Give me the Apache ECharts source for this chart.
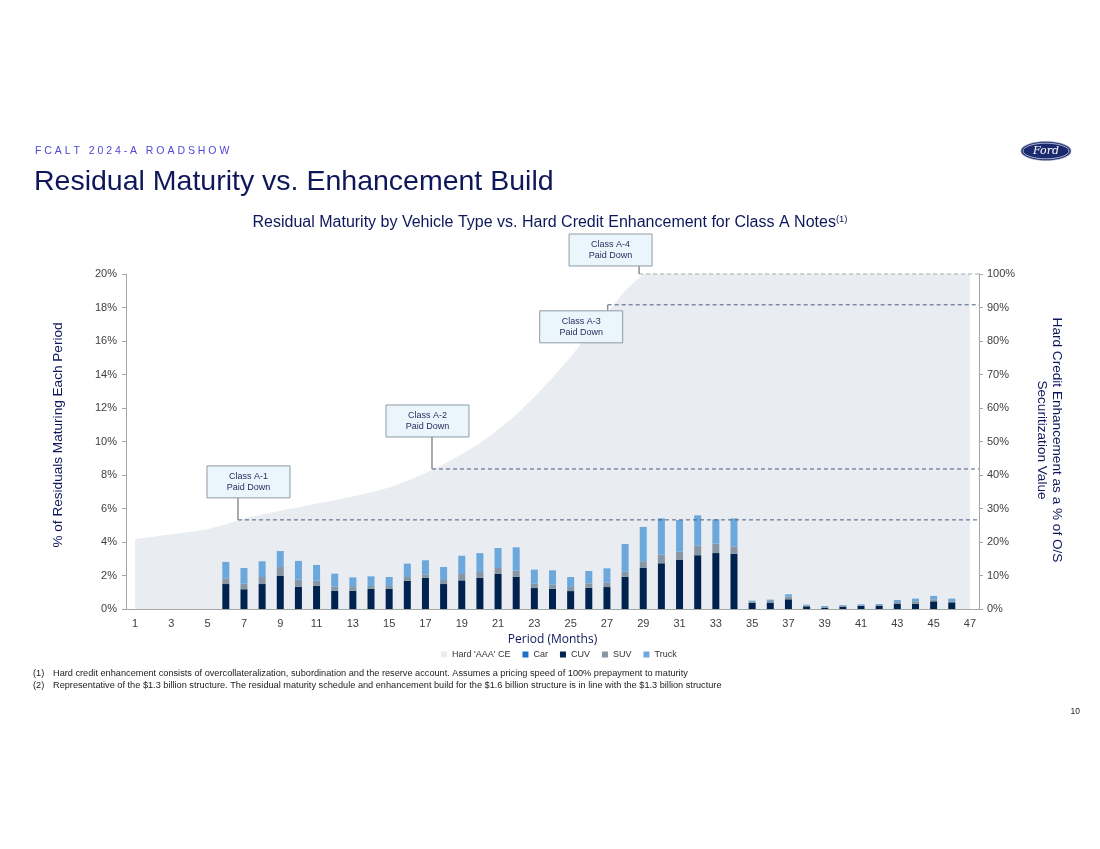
<!DOCTYPE html>
<html>
<head>
<meta charset="utf-8">
<script src="https://cdn.jsdelivr.net/npm/echarts@6/dist/echarts.min.js"></script>
<style>
html,body{margin:0;padding:0;background:#fff;}
#c{width:1100px;height:849px;}
</style>
</head>
<body>
<div id="c"></div>
<script>
// ---- data ----
const periods = ['1','2','3','4','5','6','7','8','9','10','11','12','13','14','15','16','17','18','19','20','21','22','23','24','25','26','27','28','29','30','31','32','33','34','35','36','37','38','39','40','41','42','43','44','45','46','47'];
const hardAAACE = [20.9,21.6,22.3,23.0,23.8,25.3,27.0,28.2,29.3,30.4,31.5,32.5,33.6,34.8,36.3,38.2,40.6,43.2,46.2,49.5,53.5,58.0,63.3,69.0,75.2,82.0,88.3,95.0,100,100,100,100,100,100,100,100,100,100,100,100,100,100,100,100,100,100,100];
const car   = [0,0,0,0,0,0,0,0,0,0,0,0,0,0,0,0,0,0,0,0,0,0,0,0,0,0,0,0,0,0,0,0,0,0,0,0,0,0,0,0,0,0,0,0,0,0,0];
const cuv   = [0,0,0,0,0,1.49,1.18,1.49,1.99,1.33,1.39,1.09,1.09,1.21,1.21,1.69,1.87,1.49,1.71,1.87,2.11,1.93,1.25,1.21,1.07,1.27,1.31,1.93,2.47,2.73,2.93,3.21,3.34,3.30,0.38,0.38,0.58,0.16,0.08,0.14,0.18,0.20,0.30,0.32,0.46,0.40,0];
const suv   = [0,0,0,0,0,0.34,0.33,0.42,0.52,0.42,0.30,0.24,0.22,0.16,0.16,0.22,0.18,0.24,0.38,0.34,0.34,0.36,0.26,0.24,0.24,0.26,0.26,0.30,0.38,0.51,0.49,0.57,0.56,0.44,0.07,0.10,0.16,0.04,0.04,0.06,0.04,0.04,0.12,0.14,0.12,0.06,0];
const truck = [0,0,0,0,0,0.98,0.94,0.94,0.95,1.12,0.94,0.78,0.58,0.58,0.54,0.80,0.86,0.78,1.09,1.13,1.19,1.39,0.84,0.86,0.60,0.74,0.86,1.65,2.05,2.17,1.89,1.81,1.45,1.67,0.05,0.08,0.14,0.06,0.06,0.04,0.06,0.06,0.12,0.16,0.20,0.16,0];
const leftTicks = {min:0, max:20, interval:2};
const rightTicks = {min:0, max:100, interval:10};

// annotations (class paydown points)
const annotLabels  = ['Class A-1\nPaid Down','Class A-2\nPaid Down','Class A-3\nPaid Down','Class A-4\nPaid Down'];
const annotPeriods = [6.67, 17.36, 27.04, 28.77];
const annotLevels  = [26.6, 41.8, 90.8, 100];

// ---- styling ----
const NAVY = '#0E175A';
const FONT = '"Liberation Sans", Arial, sans-serif';
const boxOffsets = [[-31,-54],[-46,-64],[-68,6],[-70,-40]];
const dashColors = ['#4C5A80','#4C5A80','#4C5A80','#A8A8A8'];

const chart = echarts.init(document.getElementById('c'), null, {renderer:'canvas'});

const option = {
  animation: false,
  backgroundColor: '#ffffff',
  textStyle: {fontFamily: FONT},
  title: [
    {text: 'F C A L T   2 0 2 4 - A   R O A D S H O W', left: 35, top: 146, padding: 0,
     textStyle: {fontSize: 10.5, fontWeight: 'normal', color: '#5046D6', fontFamily: FONT}},
    {text: 'Residual Maturity vs. Enhancement Build', left: 34, top: 168, padding: 0,
     textStyle: {fontSize: 28.5, fontWeight: 'normal', color: NAVY, fontFamily: FONT}},
    {text: '{a|Residual Maturity by Vehicle Type vs. Hard Credit Enhancement for Class A Notes}{b|(1)}',
     left: 'center', top: 214, padding: 0,
     textStyle: {rich: {
       a: {fontSize: 16, fontWeight: 'normal', color: NAVY, fontFamily: FONT},
       b: {fontSize: 9.5, fontWeight: 'normal', color: NAVY, fontFamily: FONT, verticalAlign: 'top', padding: [0,0,7,0]}
     }}}
  ],
  legend: {
    left: 436, top: 645, icon: 'rect', itemWidth: 6, itemHeight: 6, itemGap: 12,
    textStyle: {fontSize: 9, color: '#333', fontFamily: FONT},
    data: ["Hard 'AAA' CE", 'Car', 'CUV', 'SUV', 'Truck']
  },
  grid: {left: 126, right: 121, top: 274, bottom: 240},
  xAxis: {
    type: 'category', data: periods, boundaryGap: true,
    name: 'Period (Months)', nameLocation: 'middle', nameGap: 25,
    nameTextStyle: {fontSize: 12, color: NAVY, fontFamily: '"Open Sans", sans-serif'},
    axisLine: {lineStyle: {color: '#A6A6A6'}},
    axisTick: {interval: 1, length: 4, lineStyle: {color: '#A6A6A6'}},
    axisLabel: {interval: 1, fontSize: 11, color: '#404040', margin: 9}
  },
  yAxis: [
    {type: 'value', min: leftTicks.min, max: leftTicks.max, interval: leftTicks.interval,
     axisLine: {show: true, lineStyle: {color: '#A6A6A6'}},
     axisTick: {show: true, length: 4, lineStyle: {color: '#A6A6A6'}},
     splitLine: {show: false},
     axisLabel: {formatter: '{value}%', fontSize: 11, color: '#404040', margin: 9}},
    {type: 'value', position: 'right', min: rightTicks.min, max: rightTicks.max, interval: rightTicks.interval,
     axisLine: {show: true, lineStyle: {color: '#A6A6A6'}},
     axisTick: {show: true, length: 4, lineStyle: {color: '#A6A6A6'}},
     splitLine: {show: false},
     axisLabel: {formatter: '{value}%', fontSize: 11, color: '#404040', margin: 8}}
  ],
  series: [
    {name: "Hard 'AAA' CE", type: 'line', yAxisIndex: 1, data: hardAAACE, showSymbol: false, symbol: 'none',
     lineStyle: {width: 0}, itemStyle: {color: '#E9ECF0'}, areaStyle: {color: '#E9ECF0', opacity: 1}, z: 1, silent: true},
    {name: 'Car', type: 'bar', stack: 'v', data: car, barWidth: 7, itemStyle: {color: '#1F72C6'}, z: 3},
    {name: 'CUV', type: 'bar', stack: 'v', data: cuv, barWidth: 7, itemStyle: {color: '#00224F'}, z: 3},
    {name: 'SUV', type: 'bar', stack: 'v', data: suv, barWidth: 7, itemStyle: {color: '#8696A4'}, z: 3},
    {name: 'Truck', type: 'bar', stack: 'v', data: truck, barWidth: 7, itemStyle: {color: '#6CA8DC'}, z: 3}
  ],
  graphic: [
    {id: 'lname', type: 'text', x: 58, y: 435, rotation: Math.PI/2,
     style: {text: '% of Residuals Maturing Each Period', fontSize: 13.6, fontFamily: FONT, fill: NAVY, align: 'center', verticalAlign: 'middle'}},
    {id: 'rname', type: 'text', x: 1049, y: 440, rotation: -Math.PI/2,
     style: {text: 'Hard Credit Enhancement as a % of O/S\nSecuritization Value', fontSize: 13.6, lineHeight: 15, fontFamily: FONT, fill: NAVY, align: 'center', verticalAlign: 'middle'}},
    {id: 'fn1a', type: 'text', x: 33, y: 673, style: {text: '(1)', fontSize: 9.2, fontFamily: FONT, fill: '#222', verticalAlign: 'middle'}},
    {id: 'fn1b', type: 'text', x: 53, y: 673, style: {text: 'Hard credit enhancement consists of overcollateralization, subordination and the reserve account. Assumes a pricing speed of 100% prepayment to maturity', fontSize: 9.2, fontFamily: FONT, fill: '#222', verticalAlign: 'middle'}},
    {id: 'fn2a', type: 'text', x: 33, y: 685, style: {text: '(2)', fontSize: 9.2, fontFamily: FONT, fill: '#222', verticalAlign: 'middle'}},
    {id: 'fn2b', type: 'text', x: 53, y: 685, style: {text: 'Representative of the $1.3 billion structure. The residual maturity schedule and enhancement build for the $1.6 billion structure is in line with the $1.3 billion structure', fontSize: 9.2, fontFamily: FONT, fill: '#222', verticalAlign: 'middle'}},
    {id: 'pg', type: 'text', x: 1080, y: 712, style: {text: '10', fontSize: 8.5, fontFamily: FONT, fill: '#222', align: 'right', verticalAlign: 'middle'}},
    {id: 'logo1', type: 'ellipse', shape: {cx: 1046, cy: 151, rx: 25, ry: 9.5}, style: {fill: '#1B2A6E', stroke: '#9AA3C4', lineWidth: 0.6}},
    {id: 'logo2', type: 'ellipse', shape: {cx: 1046, cy: 151, rx: 23, ry: 7.8}, style: {fill: 'none', stroke: '#E6E9F2', lineWidth: 0.7}},
    {id: 'logo3', type: 'text', x: 1046, y: 151, style: {text: 'Ford', fontSize: 11, fontStyle: 'italic', fontFamily: '"DejaVu Serif", serif', fill: '#ffffff', align: 'center', verticalAlign: 'middle'}}
  ]
};
chart.setOption(option);

// annotation overlays positioned through the axes
function periodToPx(p) {
  const i = Math.floor(p);
  const x0 = chart.convertToPixel({xAxisIndex: 0}, i - 1);
  const x1 = chart.convertToPixel({xAxisIndex: 0}, i);
  return x0 + (p - i) * (x1 - x0);
}
const rightEdge = periodToPx(periods.length + 0.5);
const extra = [];
annotLabels.forEach(function (lab, k) {
  const lx = periodToPx(annotPeriods[k]);
  const ly = chart.convertToPixel({yAxisIndex: 1}, annotLevels[k]);
  const bx = lx + boxOffsets[k][0], by = ly + boxOffsets[k][1];
  const bw = 83, bh = 32;
  extra.push({id: 'dl' + k, type: 'line', z: 50, shape: {x1: lx, y1: ly, x2: rightEdge, y2: ly},
    style: {stroke: dashColors[k], lineWidth: 1, lineDash: [4, 3]}});
  const boxEdge = by > ly ? by : by + bh;
  extra.push({id: 'ld' + k, type: 'line', z: 50, shape: {x1: lx, y1: boxEdge, x2: lx, y2: ly},
    style: {stroke: '#8F8F8F', lineWidth: 1.5}});
  extra.push({id: 'bx' + k, type: 'rect', z: 51, shape: {x: bx, y: by, width: bw, height: bh},
    style: {fill: '#EAF6FC', stroke: '#8E9AA3', lineWidth: 1}});
  extra.push({id: 'tx' + k, type: 'text', z: 52, x: bx + bw / 2, y: by + bh / 2,
    style: {text: lab, fontSize: 9, lineHeight: 11, fontFamily: FONT, fill: '#1F2B5C', align: 'center', verticalAlign: 'middle'}});
});
chart.setOption({graphic: extra});
</script>
</body>
</html>
